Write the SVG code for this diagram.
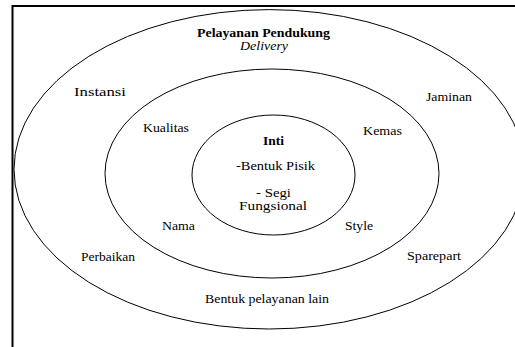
<svg xmlns="http://www.w3.org/2000/svg" width="515" height="347" viewBox="0 0 515 347">
<style>
.ring{fill:none;stroke:#000;stroke-width:1}
.frame{fill:none;stroke:#000;stroke-width:2}
text{font-family:'Liberation Serif','Times New Roman',serif;font-size:12px;fill:#000}
.b{font-weight:bold}
.i{font-style:italic}
</style>
<rect x="0" y="0" width="515" height="347" fill="#fff"/>
<g id="frame"><path class="frame" d="M12.5,347 V6 H515"/></g>
<g id="outer">
<ellipse class="ring" cx="269.3" cy="169.3" rx="255.3" ry="159.7"/>
<text class="b" x="197" y="37" textLength="133" lengthAdjust="spacingAndGlyphs">Pelayanan Pendukung</text>
<text class="i" x="240" y="50" textLength="48" lengthAdjust="spacingAndGlyphs">Delivery</text>
<text x="74" y="96" textLength="52" lengthAdjust="spacingAndGlyphs">Instansi</text>
<text x="426" y="101" textLength="46" lengthAdjust="spacingAndGlyphs">Jaminan</text>
<text x="81" y="261" textLength="54" lengthAdjust="spacingAndGlyphs">Perbaikan</text>
<text x="407" y="260" textLength="54" lengthAdjust="spacingAndGlyphs">Sparepart</text>
<text x="205" y="303" textLength="124" lengthAdjust="spacingAndGlyphs">Bentuk pelayanan lain</text>
</g>
<g id="middle">
<ellipse class="ring" cx="272" cy="173.5" rx="167" ry="104.5"/>
<text x="143" y="132" textLength="46" lengthAdjust="spacingAndGlyphs">Kualitas</text>
<text x="363" y="135" textLength="39" lengthAdjust="spacingAndGlyphs">Kemas</text>
<text x="162" y="230" textLength="33" lengthAdjust="spacingAndGlyphs">Nama</text>
<text x="345" y="230" textLength="28" lengthAdjust="spacingAndGlyphs">Style</text>
</g>
<g id="inner">
<ellipse class="ring" cx="273.5" cy="175" rx="81.5" ry="60"/>
<text class="b" x="263" y="145" textLength="21" lengthAdjust="spacingAndGlyphs">Inti</text>
<text x="236" y="170" textLength="79" lengthAdjust="spacingAndGlyphs">-Bentuk Pisik</text>
<text x="256" y="197" textLength="35" lengthAdjust="spacingAndGlyphs">- Segi</text>
<text x="239" y="210" textLength="68" lengthAdjust="spacingAndGlyphs">Fungsional</text>
</g>
<g id="connectors"/>
</svg>
